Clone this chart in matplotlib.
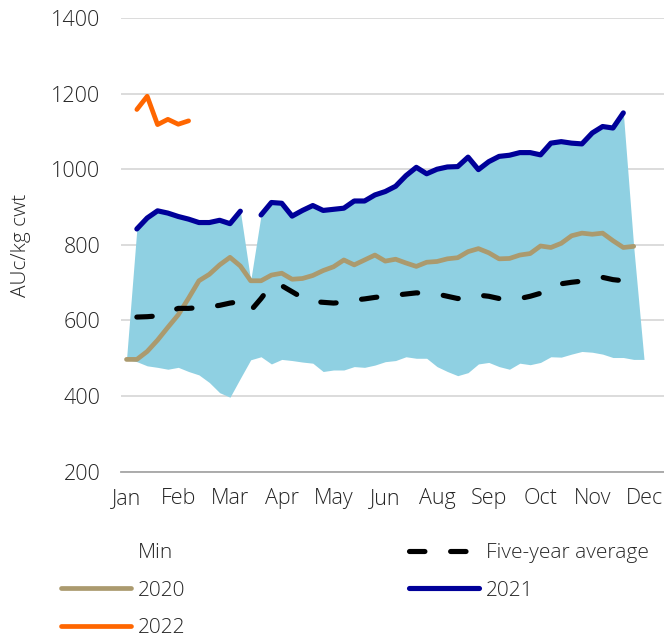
import numpy as np
import matplotlib
matplotlib.use("Agg")
import matplotlib.pyplot as plt
from matplotlib.patches import Patch
from matplotlib.lines import Line2D

plt.rcParams['font.family'] = ['Open Sans', 'DejaVu Sans']
plt.rcParams['font.weight'] = 'light'

nan = np.nan
month_labels = ['Jan', 'Feb', 'Mar', 'Apr', 'May', 'Jun', 'Aug', 'Sep', 'Oct', 'Nov', 'Dec']

min_vals = [497, 491, 480, 476, 471, 476, 465, 456, 436, 409,
            397, 447, 496, 504, 485, 497, 494, 490, 487, 465,
            469, 469, 478, 476, 482, 491, 494, 504, 500, 500,
            478, 465, 454, 462, 485, 489, 478, 471, 487, 483,
            489, 504, 503, 511, 518, 516, 511, 502, 502, 497,
            497]

max_vals = [497, 842, 871, 890, 884, 875, 868, 859, 859, 865,
            856, 889, 706, 879, 912, 910, 876, 891, 904, 891,
            894, 897, 916, 916, 932, 941, 955, 983, 1005, 988,
            1000, 1006, 1007, 1032, 999, 1020, 1034, 1037, 1044, 1044,
            1038, 1069, 1073, 1069, 1067, 1096, 1113, 1109, 1149, 796,
            497]

y2021 = [nan, 842, 871, 890, 884, 875, 868, 859, 859, 865,
         856, 889, nan, 879, 912, 910, 876, 891, 904, 891,
         894, 897, 916, 916, 932, 941, 955, 983, 1005, 988,
         1000, 1006, 1007, 1032, 999, 1020, 1034, 1037, 1044, 1044,
         1038, 1069, 1073, 1069, 1067, 1096, 1113, 1109, 1149]

y2020 = [497, 497, 518, 548, 582, 615, 659, 705, 722, 747,
         767, 744, 705, 705, 720, 725, 709, 711, 719, 732,
         742, 760, 747, 760, 773, 757, 762, 752, 743, 754,
         756, 763, 766, 782, 790, 779, 763, 764, 773, 777,
         797, 793, 804, 824, 831, 828, 831, 811, 793, 796]

y2022 = [nan, 1158, 1193, 1118, 1132, 1119, 1128]

five_year_avg = [nan, 609, 610, 612, 622, 632, 632, 634, 636, 640,
                 646, 650, 626, 658, 694, 692, 676, 660, 650, 648,
                 646, 648, 654, 657, 661, 664, 667, 670, 673, 672,
                 670, 664, 658, 661, 667, 664, 658, 656, 658, 664,
                 672, 689, 697, 701, 704, 708, 714, 708, 705]

C_AREA = '#8fd0e2'
C_2021 = '#000099'
C_2020 = '#ab9a6e'
C_2022 = '#ff6600'
C_TEXT = '#262626'

W, H = 664, 637
fig = plt.figure(figsize=(W / 100, H / 100), dpi=100)
ax = fig.add_axes([121 / W, 165.3 / H, (W - 121) / W, (619 - 165.3) / H])

x_area = np.arange(len(min_vals))
ax.fill_between(x_area, min_vals, max_vals, color=C_AREA, lw=0, zorder=1)

lw = 3.7
ax.plot(np.arange(len(y2020)), y2020, color=C_2020, lw=3.4,
        solid_capstyle='round', solid_joinstyle='round', zorder=3)
ax.plot(np.arange(len(y2021)), y2021, color=C_2021, lw=lw,
        solid_capstyle='round', solid_joinstyle='round', zorder=4)
ax.plot(np.arange(len(y2022)), y2022, color=C_2022, lw=3.4,
        solid_capstyle='round', solid_joinstyle='round', zorder=4)
ax.plot(np.arange(len(five_year_avg)), five_year_avg, color='black', lw=lw,
        dashes=(3, 5), dash_capstyle='round', dash_joinstyle='round', zorder=5)

ax.set_xlim(-0.531, 51.93)
ax.set_ylim(200, 1400)
ax.set_yticks(np.arange(200, 1401, 200))
ax.set_xticks(np.arange(0, 5 * len(month_labels), 5))
ax.set_xticklabels(month_labels)

ax.set_axisbelow(True)
ax.yaxis.grid(True, color='#d9d9d9', lw=1.3)
for s in ['left', 'right', 'top']:
    ax.spines[s].set_visible(False)
ax.spines['bottom'].set_color('#a6a6a6')
ax.spines['bottom'].set_linewidth(1.3)
ax.tick_params(axis='both', length=0, labelsize=15.5, labelcolor=C_TEXT)
ax.tick_params(axis='y', pad=15)
ax.tick_params(axis='x', pad=12)

fig.text(21 / W, 1 - 245 / H, 'AUc/kg cwt', rotation=90, ha='center', va='center',
         fontsize=15, color=C_TEXT)

handles = [
    Patch(facecolor='white', edgecolor='none', label='Min'),
    Line2D([], [], color=C_2020, lw=3.4, solid_capstyle='round', label='2020'),
    Line2D([], [], color=C_2022, lw=3.4, solid_capstyle='round', label='2022'),
    Line2D([], [], color='black', lw=lw, dashes=(3, 5), dash_capstyle='round',
           label='Five-year average'),
    Line2D([], [], color=C_2021, lw=lw, solid_capstyle='round', label='2021'),
]
fig.legend(handles=handles, ncol=2, loc='upper left',
           bbox_to_anchor=(61 / W, 1 - 543 / H), borderaxespad=0, borderpad=0,
           frameon=False, fontsize=15, handlelength=3.36, handletextpad=0.34,
           columnspacing=10.7, labelspacing=0.85, labelcolor=C_TEXT)

fig.savefig('out.png', dpi=100)
